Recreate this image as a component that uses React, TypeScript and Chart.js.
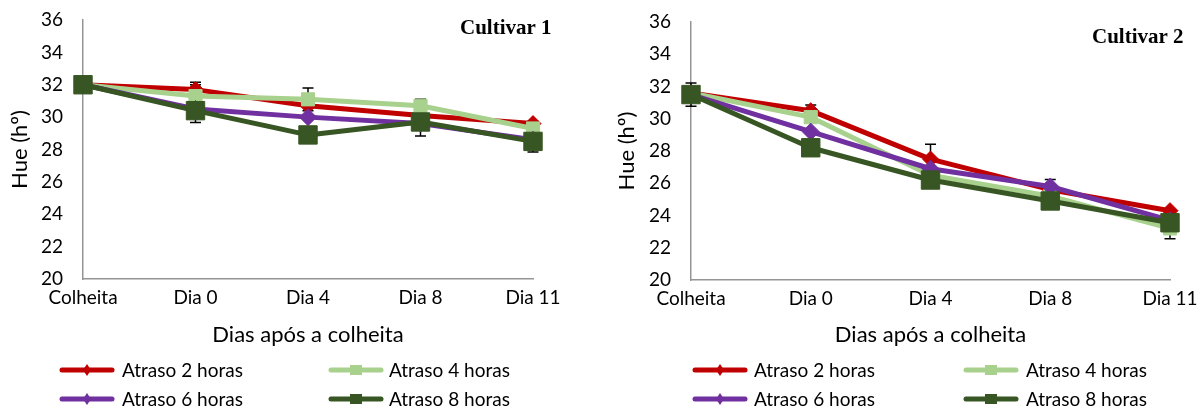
import React, { useEffect, useRef } from 'react';
import { Chart, registerables } from 'chart.js';

Chart.register(...registerables);

// ---------- data ----------
const categories = ['Colheita', 'Dia 0', 'Dia 4', 'Dia 8', 'Dia 11'];
const seriesNames = ['Atraso 2 horas', 'Atraso 4 horas', 'Atraso 6 horas', 'Atraso 8 horas'];
const yMin = 20;
const yMax = 36;
const yStep = 2;

// Cultivar 1
const c1Atraso2 = [32.0, 31.7, 30.7, 30.1, 29.6];
const c1Atraso4 = [32.0, 31.3, 31.1, 30.7, 29.3];
const c1Atraso6 = [32.0, 30.5, 30.0, 29.6, 28.6];
const c1Atraso8 = [32.0, 30.4, 28.9, 29.7, 28.5];
const c1Err2 = [0, 0.45, 0, 0, 0.15];
const c1Err4 = [0, 0.7, 0.7, 0.4, 0];
const c1Err6 = [0, 0, 0, 0, 0];
const c1Err8 = [0, 0.73, 0, 0.86, 0.65];

// Cultivar 2
const c2Atraso2 = [31.6, 30.5, 27.5, 25.6, 24.3];
const c2Atraso4 = [31.6, 30.1, 26.5, 25.2, 23.2];
const c2Atraso6 = [31.5, 29.2, 26.9, 25.8, 23.7];
const c2Atraso8 = [31.5, 28.2, 26.2, 24.9, 23.55];
const c2Err2 = [0, 0.36, 0.92, 0, 0];
const c2Err4 = [0, 0, 0, 0, 0.64];
const c2Err6 = [0, 0, 0, 0.44, 0];
const c2Err8 = [0.72, 0, 0, 0, 0];

// ---------- styles ----------
const FONT = 'Lato, "Open Sans", sans-serif';
const seriesColors = ['#C00000', '#A9D18E', '#7030A0', '#375623'];
const seriesMarkers = ['rectRot', 'rect', 'rectRot', 'rect'];
const markerRadius = [8, 9.3, 8.5, 13];

const errorBarPlugin = {
  id: 'errorBars',
  beforeDatasetsDraw(chart: any, _args: any, opts: any) {
    const errs: number[][] = opts.errors || [];
    const { ctx } = chart;
    const xs = chart.scales.x;
    const ys = chart.scales.y;
    ctx.save();
    ctx.strokeStyle = '#000';
    ctx.lineWidth = 1.5;
    chart.data.datasets.forEach((ds: any, i: number) => {
      const e = errs[i] || [];
      ds.data.forEach((v: number, j: number) => {
        if (!e[j]) return;
        const px = xs.getPixelForValue(j);
        const top = ys.getPixelForValue(v + e[j]);
        const bot = ys.getPixelForValue(v - e[j]);
        ctx.beginPath();
        ctx.moveTo(px, top);
        ctx.lineTo(px, bot);
        ctx.moveTo(px - 5.5, top);
        ctx.lineTo(px + 5.5, top);
        ctx.moveTo(px - 5.5, bot);
        ctx.lineTo(px + 5.5, bot);
        ctx.stroke();
      });
    });
    ctx.restore();
  },
};

const cornerLabelPlugin = {
  id: 'cornerLabel',
  afterDraw(chart: any, _args: any, opts: any) {
    if (!opts.text) return;
    const { ctx } = chart;
    ctx.save();
    ctx.font = 'bold 21px "Liberation Serif", "Times New Roman", serif';
    ctx.fillStyle = '#000';
    ctx.textAlign = 'left';
    ctx.textBaseline = 'alphabetic';
    ctx.fillText(opts.text, opts.x, opts.y);
    ctx.restore();
  },
};

type ChartProps = {
  values: number[][];
  errors: number[][];
  label: string;
  labelX: number;
  labelY: number;
  left: number;
  width: number;
  height: number;
  axisLeft: number;
  padTop: number;
  padRight: number;
  axisBottom: number;
  yTitlePad: number;
};

function HueChart(p: ChartProps) {
  const ref = useRef<HTMLCanvasElement | null>(null);
  useEffect(() => {
    if (!ref.current) return;
    const datasets = p.values.map((data, i) => ({
      label: seriesNames[i],
      data,
      borderColor: seriesColors[i],
      backgroundColor: seriesColors[i],
      borderWidth: 5,
      borderJoinStyle: 'round',
      borderCapStyle: 'round',
      pointStyle: seriesMarkers[i],
      pointRadius: markerRadius[i],
      pointBorderWidth: 1,
      pointBorderColor: seriesColors[i],
      pointBackgroundColor: seriesColors[i],
      order: 4 - i,
      tension: 0,
    }));
    const chart = new Chart(ref.current, {
      type: 'line',
      data: { labels: categories, datasets: datasets as any },
      plugins: [errorBarPlugin, cornerLabelPlugin],
      options: {
        animation: false,
        responsive: false,
        devicePixelRatio: 1,
        layout: { padding: { top: p.padTop, right: p.padRight, left: 0, bottom: 0 } },
        plugins: {
          legend: { display: false },
          tooltip: { enabled: false },
          errorBars: { errors: p.errors },
          cornerLabel: { text: p.label, x: p.labelX, y: p.labelY },
        } as any,
        scales: {
          x: {
            offset: false,
            grid: { display: false, drawTicks: true, tickLength: 7 },
            border: { display: true, color: '#959595', width: 1.5 },
            ticks: { color: '#000', font: { family: FONT, size: 19 }, padding: 0, maxRotation: 0, autoSkip: false },
            title: {
              display: true,
              text: 'Dias após a colheita',
              color: '#000',
              font: { family: FONT, size: 22 },
              padding: { top: 0, bottom: 12 },
            },
            afterFit: (s: any) => {
              s.height = p.height - p.axisBottom;
            },
          },
          y: {
            min: yMin,
            max: yMax,
            grid: { display: false, drawTicks: true, tickLength: 17 },
            border: { display: true, color: '#959595', width: 1.5 },
            ticks: { stepSize: yStep, color: '#000', font: { family: FONT, size: 19 }, padding: 3 },
            title: {
              display: true,
              text: 'Hue (hº)',
              color: '#000',
              font: { family: FONT, size: 22 },
              padding: { top: p.yTitlePad, bottom: 0 },
            },
            afterFit: (s: any) => {
              s.width = p.axisLeft;
            },
          },
        },
      } as any,
    });
    return () => chart.destroy();
  }, []);
  return (
    <canvas
      ref={ref}
      width={p.width}
      height={p.height}
      style={{ position: 'absolute', left: p.left, top: 0, width: p.width, height: p.height }}
    />
  );
}

function LegendIcon({ color, marker }: { color: string; marker: string }) {
  return (
    <svg width={56} height={16} style={{ display: 'block' }}>
      <line x1={3} y1={8} x2={53} y2={8} stroke={color} strokeWidth={5} strokeLinecap="round" />
      {marker === 'rectRot' ? (
        <polygon points="28,2 32,8 28,14 24,8" fill={color} />
      ) : (
        <rect x={22} y={3} width={12} height={10} fill={color} />
      )}
    </svg>
  );
}

function Legend({ lineXs, textXs, rowYs }: { lineXs: number[]; textXs: number[]; rowYs: number[] }) {
  return (
    <>
      {seriesNames.map((name, i) => {
        const col = i % 2;
        const row = Math.floor(i / 2);
        return (
          <React.Fragment key={name}>
            <div style={{ position: 'absolute', left: lineXs[col] - 3, top: rowYs[row] - 8 }}>
              <LegendIcon color={seriesColors[i]} marker={seriesMarkers[i]} />
            </div>
            <div
              style={{
                position: 'absolute',
                left: textXs[col],
                top: rowYs[row] - 12,
                height: 24,
                lineHeight: '24px',
                fontFamily: FONT,
                fontSize: 19,
                color: '#000',
                whiteSpace: 'nowrap',
              }}
            >
              {name}
            </div>
          </React.Fragment>
        );
      })}
    </>
  );
}

export default function App() {
  return (
    <div style={{ position: 'absolute', left: 0, top: 0, width: 1204, height: 409, background: '#fff', overflow: 'hidden' }}>
      <HueChart
        values={[c1Atraso2, c1Atraso4, c1Atraso6, c1Atraso8]}
        errors={[c1Err2, c1Err4, c1Err6, c1Err8]}
        label="Cultivar 1"
        labelX={460}
        labelY={34}
        left={0}
        width={600}
        height={360}
        axisLeft={83}
        padTop={20}
        padRight={67}
        axisBottom={279}
        yTitlePad={7}
      />
      <HueChart
        values={[c2Atraso2, c2Atraso4, c2Atraso6, c2Atraso8]}
        errors={[c2Err2, c2Err4, c2Err6, c2Err8]}
        label="Cultivar 2"
        labelX={492}
        labelY={43}
        left={600}
        width={604}
        height={360}
        axisLeft={91}
        padTop={22}
        padRight={34}
        axisBottom={280}
        yTitlePad={14}
      />
      <Legend lineXs={[62, 331]} textXs={[122, 389]} rowYs={[370, 399]} />
      <Legend lineXs={[695, 966]} textXs={[754, 1026]} rowYs={[370, 399]} />
    </div>
  );
}
